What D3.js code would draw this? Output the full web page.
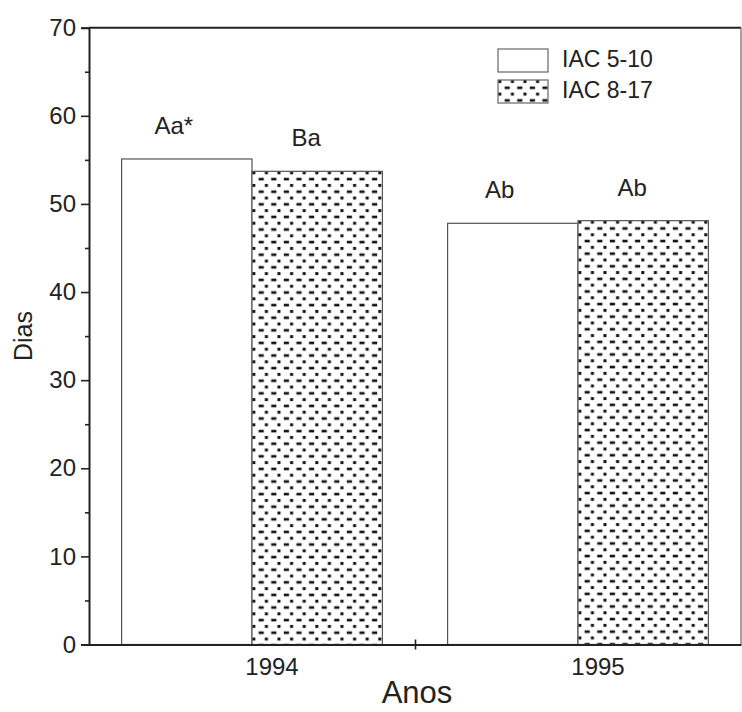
<!DOCTYPE html>
<html>
<head>
<meta charset="utf-8">
<script src="https://cdn.jsdelivr.net/npm/d3@7"></script>
<style>
  body { margin: 0; background: #fff; }
  text { font-family: "Liberation Sans", Arial, sans-serif; fill: #222; }
</style>
</head>
<body>
<div id="chart"></div>
<script>
// data
var years = [1994, 1995];
var cultivars = ["IAC 5-10", "IAC 8-17"];
var iac510 = [55.1, 47.8];
var iac817 = [53.7, 48.1];
var iac510Letters = ["Aa*", "Ab"];
var iac817Letters = ["Ba", "Ab"];
var yTicks = [0, 10, 20, 30, 40, 50, 60, 70];
var yMinorTicks = [5, 15, 25, 35, 45, 55, 65];

// svg size
var width = 742;
var height = 712;

// plot frame edges
var plotLeft = 89, plotRight = 741, plotTop = 27.7, plotBottom = 644.5;

var svg = d3.select("#chart")
  .append("svg")
  .attr("width", width)
  .attr("height", height);

// hatch pattern: rows of dots and dashes
var defs = svg.append("defs");
var pat = defs.append("pattern")
  .attr("id", "dots")
  .attr("patternUnits", "userSpaceOnUse")
  .attr("width", 12.6)
  .attr("height", 12.6);
pat.append("rect").attr("width", 12.6).attr("height", 12.6).attr("fill", "#fff");
pat.append("rect").attr("x", 0.3).attr("y", 0).attr("width", 3).attr("height", 3).attr("fill", "#111");
pat.append("rect").attr("x", 6.6).attr("y", 6.5).attr("width", 5.2).attr("height", 2.6).attr("fill", "#111");

// scales
var x = d3.scaleLinear().domain([1993.5, 1995.5]).range([plotLeft, plotRight]);
var y = d3.scaleLinear().domain([0, 70]).range([plotBottom, plotTop]);
var half = 0.4;

// bars
var series = [
  { vals: iac510, fill: "#fff", off: -half, letters: iac510Letters, dx: -13 },
  { vals: iac817, fill: "url(#dots)", off: 0, letters: iac817Letters, dx: -11 }
];

series.forEach(function(s) {
  var g = svg.selectAll(null)
    .data(years)
    .enter()
    .append("g")
    .attr("transform", (d, i) => `translate(${x(d + s.off)}, ${y(s.vals[i])})`);

  g.append("rect")
    .attr("width", x(half) - x(0))
    .attr("height", (d, i) => y(0) - y(s.vals[i]))
    .attr("fill", s.fill)
    .attr("stroke", "#555")
    .attr("stroke-width", 1.2);

  // significance letters above bars
  svg.selectAll(null)
    .data(years)
    .enter()
    .append("text")
    .attr("x", d => x(d + s.off + half / 2) + s.dx)
    .attr("y", (d, i) => y(s.vals[i]) - 25)
    .attr("text-anchor", "middle")
    .attr("font-size", 24)
    .text((d, i) => s.letters[i]);
});

// frame (top and right)
svg.append("line").attr("x1", plotLeft).attr("x2", plotRight).attr("y1", plotTop).attr("y2", plotTop)
  .attr("stroke", "#222").attr("stroke-width", 2);
svg.append("line").attr("x1", plotRight).attr("x2", plotRight).attr("y1", plotTop).attr("y2", plotBottom)
  .attr("stroke", "#666").attr("stroke-width", 1.2);

// y axis
var yAxis = svg.append("g")
  .attr("transform", `translate(${plotLeft}, 0)`)
  .call(d3.axisLeft(y).tickValues(yTicks).tickSize(8).tickPadding(5).tickFormat(d3.format("d")));
svg.append("g")
  .attr("class", "minor")
  .attr("transform", `translate(${plotLeft}, 0)`)
  .call(d3.axisLeft(y).tickValues(yMinorTicks).tickSize(4).tickFormat(""))
  .select(".domain").remove();

// x axis
var xAxis = svg.append("g")
  .attr("transform", `translate(0, ${plotBottom})`)
  .call(d3.axisBottom(x).tickValues([1994.5]).tickSize(5).tickSizeOuter(0).tickFormat(""));
xAxis.selectAll(".tick line").attr("y1", -5);

// year labels
svg.selectAll(".year")
  .data(years)
  .enter()
  .append("text")
  .attr("class", "year")
  .attr("x", d => x(d) + 20)
  .attr("y", plotBottom + 30)
  .attr("text-anchor", "middle")
  .attr("font-size", 24)
  .text(d => d);

svg.selectAll(".domain").attr("stroke", "#222").attr("stroke-width", 2);
svg.selectAll(".tick line").attr("stroke", "#222").attr("stroke-width", 1.6);
svg.selectAll(".tick text").attr("font-size", 24).attr("fill", "#222")
  .style("font-family", "'Liberation Sans', Arial, sans-serif");

// axis titles
svg.append("text")
  .attr("transform", `translate(32, ${(plotTop + plotBottom) / 2}) rotate(-90)`)
  .attr("text-anchor", "middle")
  .attr("font-size", 25)
  .text("Dias");

svg.append("text")
  .attr("x", 417)
  .attr("y", 703)
  .attr("text-anchor", "middle")
  .attr("font-size", 31)
  .text("Anos");

// legend
var legend = svg.selectAll(".legend")
  .data(cultivars)
  .enter()
  .append("g")
  .attr("class", "legend")
  .attr("transform", (d, i) => `translate(498, ${49 + i * 31})`);

legend.append("rect")
  .attr("width", 50)
  .attr("height", 23)
  .attr("fill", (d, i) => i === 0 ? "#fff" : "url(#dots)")
  .attr("stroke", "#666")
  .attr("stroke-width", 1.2);

legend.append("text")
  .attr("x", 64)
  .attr("y", 18)
  .attr("font-size", 23)
  .text(d => d);
</script>
</body>
</html>
